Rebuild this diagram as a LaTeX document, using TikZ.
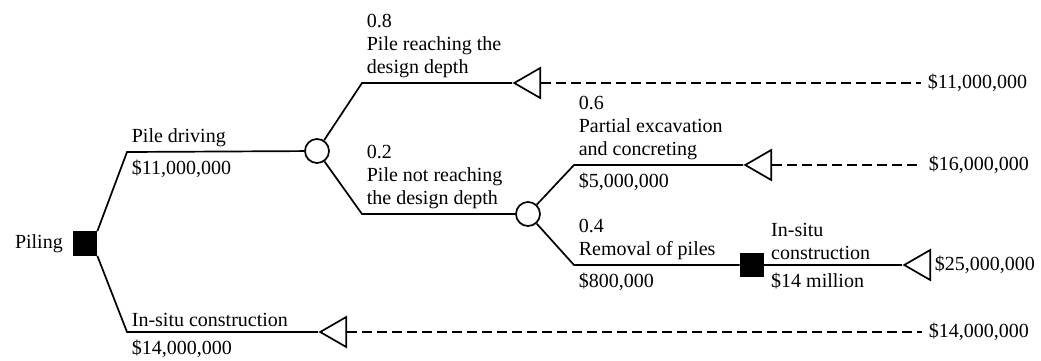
\documentclass[tikz,border=0pt]{standalone}
\usepackage{fontspec}
\setmainfont{Liberation Serif}
\usetikzlibrary{shapes.geometric,positioning}

\begin{document}
\begin{tikzpicture}[x=1pt,y=-1pt,line width=1.7pt,
		font=\fontsize{20}{23}\selectfont,
		decision/.style={draw,fill=black,minimum size=23pt,inner sep=0pt},
		chance/.style={draw,fill=white,circle,minimum size=24pt,inner sep=0pt},
		terminal/.style={draw,fill=white,isosceles triangle,isosceles triangle stretches,
			shape border rotate=180,minimum width=30pt,minimum height=26pt,inner sep=0pt,anchor=apex},
		toplabel/.style={anchor=south west,align=left,inner xsep=4pt,inner ysep=4pt},
		costlabel/.style={anchor=north west,inner xsep=4pt,inner ysep=7pt},
		payoff/.style={anchor=west,inner xsep=6pt},
		tail/.style={dash pattern=on 10pt off 5pt,line width=1.6pt}]
			\useasboundingbox (0,0) rectangle (1041,360);
			% nodes
			\node[decision] (dec) at (85,243.5) {};
			\node[left=8pt of dec,inner sep=1pt] (piling) {Piling};
			\coordinate (k1) at (127,152);
			\coordinate (k2) at (127,332);
			\node[chance] (c1) at (317,151) {};
			\node[terminal] (t5) at (318,332) {};
			\coordinate (k3) at (362,83);
			\coordinate (k4) at (362,214);
			\node[terminal] (t1) at (512,83) {};
			\node[chance] (c2) at (528,214) {};
			\coordinate (k5) at (574,165);
			\coordinate (k6) at (574,265);
			\node[terminal] (t2) at (743,165) {};
			\node[decision] (d2) at (752,265) {};
			\node[terminal] (t3) at (902,265) {};
			% payoffs
			\node[payoff] (v1) at (921,83) {\$11,000,000};
			\node[payoff] (v2) at (922,165) {\$16,000,000};
			\node[right=0pt of t3.east,anchor=west,inner xsep=3pt] (v3) {\$25,000,000};
			\node[payoff] (v4) at (922,332) {\$14,000,000};
			% branches
			\draw (dec.north east) -- (k1) -- (c1);
			\draw (dec.south east) -- (k2) -- (t5.apex);
			\draw (c1) -- (k3) -- (t1.apex);
			\draw (c1) -- (k4) -- (c2);
			\draw (c2) -- (k5) -- (t2.apex);
			\draw (c2) -- (k6) -- (d2);
			\draw (d2) -- (t3.apex);
			\draw[tail] (t1.east) -- (v1.west);
			\draw[tail] (t2.east) -- (v2.west);
			\draw[tail] (t5.east) -- (v4.west);
			% labels
			\node[toplabel] (l1) at (k1) {Pile driving};
			\node[costlabel] (m1) at (k1) {\$11,000,000};
			\node[toplabel] (l2) at (k2) {In-situ construction};
			\node[costlabel] (m2) at (k2) {\$14,000,000};
			\node[toplabel] (l3) at (k3) {0.8\\Pile reaching the\\design depth};
			\node[toplabel] (l4) at (k4) {0.2\\Pile not reaching\\the design depth};
			\node[toplabel] (l5) at (k5) {0.6\\Partial excavation\\and concreting};
			\node[costlabel] (m5) at (k5) {\$5,000,000};
			\node[toplabel] (l6) at (k6) {0.4\\Removal of piles};
			\node[costlabel] (m6) at (k6) {\$800,000};
			\node[toplabel,inner xsep=6pt] (l7) at (d2.east) {In-situ\\construction};
			\node[costlabel,inner xsep=6pt,anchor=north west] (m7) at (d2.east) {\$14 million};
		\end{tikzpicture}
\end{document}
